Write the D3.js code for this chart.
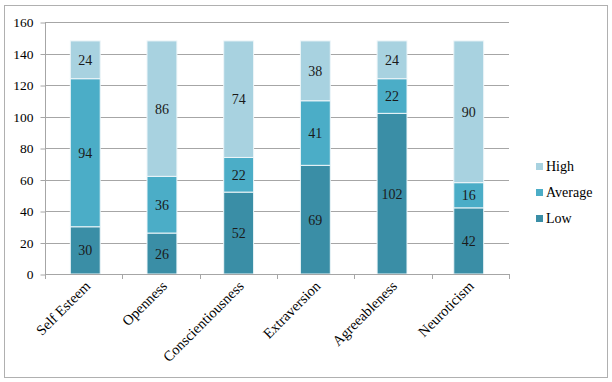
<!DOCTYPE html>
<html>
<head>
<meta charset="utf-8">
<script src="https://cdn.jsdelivr.net/npm/d3@7"></script>
<style>
  body { margin: 0; background: #fff; }
  svg text { font-family: "Liberation Serif", "Times New Roman", Times, serif !important; }
</style>
</head>
<body>
<div id="field"></div>
<script>
'use strict';

// traits on the x axis
let categories = ['Self Esteem', 'Openness', 'Conscientiousness', 'Extraversion', 'Agreeableness', 'Neuroticism'];
let seriesNames = ['Low', 'Average', 'High'];
let low = [30, 26, 52, 69, 102, 42];
let average = [94, 36, 22, 41, 22, 16];
let high = [24, 86, 74, 38, 24, 90];
let yTicks = [0, 20, 40, 60, 80, 100, 120, 140, 160];

function StackChart(setting) {
  let w = setting.w,
      h = setting.h,
      serif = '"Liberation Serif", "Times New Roman", Times, serif',
      colors = { Low: '#3a8ea6', Average: '#4badc7', High: '#a8d2e0' },
      left = 45, right = 509, top = 22, bottom = 274,
      rows = categories.map(function(c, i){ return { cat: c, Low: low[i], Average: average[i], High: high[i] }; }),
      stacked = d3.stack().keys(seriesNames)(rows),
      x = d3.scaleBand().domain(categories).range([left, right]).paddingInner(0.61).paddingOuter(0.33),
      y = d3.scaleLinear().domain([0, 160]).range([bottom, top]),
      svg = d3.select('#field').append('svg').attr('width', w).attr('height', h)
        .attr('font-family', serif);

  // chart frame
  svg.append('rect').attr('x', 4.5).attr('y', 5.5).attr('width', 603).attr('height', 372)
    .attr('fill', 'none').attr('stroke', '#b0b0b0').attr('stroke-width', 1);

  // gridlines
  svg.append('g').selectAll('line').data(yTicks.slice(1)).enter().append('line')
    .attr('x1', left).attr('x2', right)
    .attr('y1', function(d){ return Math.round(y(d)) + 0.5; }).attr('y2', function(d){ return Math.round(y(d)) + 0.5; })
    .attr('stroke', '#a6a6a6').attr('stroke-width', 1);

  // y axis
  let yAxis = svg.append('g').attr('transform', 'translate(' + (left + 0.5) + ',0.5)')
    .call(d3.axisLeft(y).tickValues(yTicks).tickSize(5).tickPadding(7));
  yAxis.attr('font-family', serif);
  yAxis.select('.domain').attr('stroke', '#a6a6a6').attr('d', 'M0,' + top + 'V' + bottom);
  yAxis.selectAll('.tick line').attr('stroke', '#a6a6a6');
  yAxis.selectAll('text').attr('font-size', 13.5).attr('fill', '#000');

  // bars
  let layers = svg.append('g').selectAll('g').data(stacked).enter().append('g')
    .attr('fill', function(d){ return colors[d.key]; });
  layers.selectAll('rect').data(function(d){ return d; }).enter().append('rect')
    .attr('x', function(d){ return x(d.data.cat); })
    .attr('y', function(d){ return y(d[1]); })
    .attr('width', x.bandwidth())
    .attr('height', function(d){ return y(d[0]) - y(d[1]); })
    .attr('stroke', '#eef6f9').attr('stroke-width', 1);

  // value labels
  stacked.forEach(function(layer){
    svg.append('g').selectAll('text').data(layer).enter().append('text')
      .attr('x', function(d){ return x(d.data.cat) + x.bandwidth() / 2; })
      .attr('y', function(d){ return (y(d[0]) + y(d[1])) / 2 + 5; })
      .attr('text-anchor', 'middle').attr('font-size', 14).attr('fill', '#1a1a1a')
      .text(function(d){ return d[1] - d[0]; });
  });

  // x axis
  let xAxis = svg.append('g').attr('transform', 'translate(0,' + (bottom + 0.5) + ')')
    .call(d3.axisBottom(x).tickSize(0));
  xAxis.select('.domain').attr('stroke', '#a6a6a6').attr('d', 'M' + left + ',0H' + right);
  xAxis.selectAll('.tick text').remove();
  // tick marks between categories
  let bounds = d3.range(categories.length + 1).map(function(i){ return left + i * (right - left) / categories.length; });
  svg.append('g').selectAll('line').data(bounds).enter().append('line')
    .attr('x1', function(d){ return Math.round(d) + 0.5; }).attr('x2', function(d){ return Math.round(d) + 0.5; })
    .attr('y1', bottom).attr('y2', bottom + 5).attr('stroke', '#a6a6a6');
  svg.append('g').selectAll('text').data(categories).enter().append('text')
    .attr('transform', function(d){ return 'translate(' + (x(d) + x.bandwidth() / 2 + 6) + ',' + (bottom + 13) + ') rotate(-45)'; })
    .attr('text-anchor', 'end').attr('font-size', 14.5).attr('fill', '#000')
    .text(function(d){ return d; });

  // legend
  let legend = svg.append('g').selectAll('g').data(seriesNames.slice().reverse()).enter().append('g')
    .attr('transform', function(d, i){ return 'translate(536,' + (168 + i * 26) + ')'; });
  legend.append('rect').attr('x', 0).attr('y', -5).attr('width', 7).attr('height', 7)
    .attr('fill', function(d){ return colors[d]; });
  legend.append('text').attr('x', 10).attr('y', 3).attr('font-size', 14).attr('fill', '#000')
    .text(function(d){ return d; });
}

let chart = new StackChart({ w: 612, h: 382 });
</script>
</body>
</html>
